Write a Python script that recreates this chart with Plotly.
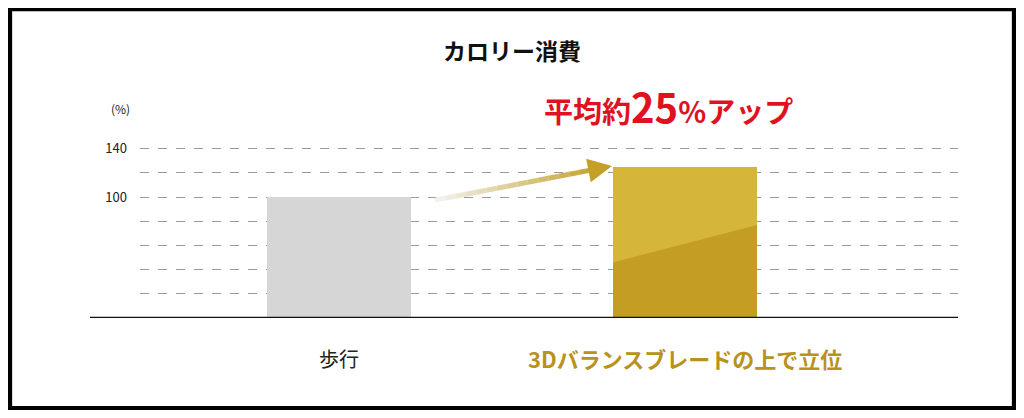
import plotly.graph_objects as go

categories = ["歩行", "3Dバランスブレードの上で立位"]
values = [100, 125]
grid_vals = [20, 40, 60, 80, 100, 120, 140, 160]
tick_labels = {100: "100", 140: "140"}

FONT = "Noto Sans CJK JP"
OFF = 8  # page body margin
W, H = 1024 - 2 * OFF, 418 - 2 * OFF
ML, MR, MT, MB = 140 - OFF, 66 - OFF, 124 - OFF, 100 - OFF
pw = W - ML - MR
ph = H - MT - MB
X0, X1 = -0.575, 1.789
YMAX = 160.5


def px_to_x(px):
    return X0 + (px - OFF - ML) / pw * (X1 - X0)


def pxx(px):
    return (px - OFF - ML) / pw


def pxy(py):
    return 1 - (py - OFF - MT) / ph


fig = go.Figure()
bw = 0.416
fig.add_trace(go.Bar(x=[0], y=[values[0]], width=bw, marker=dict(color="#d6d6d6", line_width=0),
                     hoverinfo="skip"))
fig.add_trace(go.Bar(x=[1], y=[values[1]], width=bw, marker=dict(color="#c39e22", line_width=0),
                     hoverinfo="skip"))
# lighter upper part of the gold bar
l, r = 1 - bw / 2, 1 + bw / 2
fig.add_trace(go.Scatter(x=[l, r, r, l, l], y=[values[1], values[1], 77, 46, values[1]],
                         fill="toself", fillcolor="rgba(216,186,60,0.85)", mode="none",
                         hoverinfo="skip"))

# arrow with gray-to-gold gradient
ax0, ax1 = px_to_x(435), px_to_x(600)
ay0, ay1 = 97.5, 123.8
n = 16
c0, c1 = (244, 244, 244), (196, 160, 40)
for i in range(n):
    t0, t1 = i / n, (i + 1) / n
    tc = (i + 0.5) / n
    col = "rgb(%d,%d,%d)" % tuple(int(c0[k] + (c1[k] - c0[k]) * tc) for k in range(3))
    fig.add_trace(go.Scatter(x=[ax0 + (ax1 - ax0) * t0, ax0 + (ax1 - ax0) * t1],
                             y=[ay0 + (ay1 - ay0) * t0, ay0 + (ay1 - ay0) * t1],
                             mode="lines", line=dict(color=col, width=5), hoverinfo="skip"))
fig.add_annotation(x=px_to_x(612), y=125.8, ax=px_to_x(596), ay=123.2, xref="x", yref="y",
                   axref="x", ayref="y", text="", showarrow=True, arrowhead=2, arrowsize=1.2,
                   arrowwidth=4, arrowcolor="#c4a028")

# baseline
fig.add_shape(type="line", xref="paper", yref="y", x0=pxx(90), x1=1, y0=0, y1=0,
              line=dict(color="#111", width=2.5))
# frame
fig.add_shape(type="rect", xref="paper", yref="paper",
              x0=-ML / pw + 0.002, x1=1 + MR / pw - 0.002,
              y0=-MB / ph + 0.008, y1=1 + MT / ph - 0.004,
              line=dict(color="black", width=5), layer="below")

fig.add_annotation(text="<b>カロリー消費</b>", xref="paper", yref="paper",
                   x=pxx(512), y=pxy(50), xanchor="center", yanchor="middle", showarrow=False,
                   font=dict(size=23, color="#111", family=FONT))
fig.add_annotation(text="<b>平均約<span style='font-size:40px'>25</span>%アップ</b>",
                   xref="paper", yref="paper", x=pxx(668), y=pxy(106),
                   xanchor="center", yanchor="middle", showarrow=False,
                   font=dict(size=29, color="#e0121f", family=FONT))
fig.add_annotation(text="(%)", xref="paper", yref="paper", x=pxx(120), y=pxy(108),
                   xanchor="center", yanchor="middle", showarrow=False,
                   font=dict(size=12, color="#222", family=FONT))
fig.add_annotation(text=categories[0], x=0, y=0, yref="y", yshift=-40, showarrow=False,
                   font=dict(size=20, color="#222", family=FONT))
fig.add_annotation(text="<b>" + categories[1] + "</b>", x=1, y=0, yref="y", yshift=-40,
                   showarrow=False, font=dict(size=22, color="#b8921c", family=FONT))

fig.update_layout(
    width=W, height=H, margin=dict(l=ML, r=MR, t=MT, b=MB),
    paper_bgcolor="white", plot_bgcolor="white", showlegend=False, bargap=0,
    xaxis=dict(range=[X0, X1], showticklabels=False, showgrid=False, zeroline=False,
               fixedrange=True),
    yaxis=dict(range=[0, YMAX], tickvals=grid_vals,
               ticktext=[tick_labels.get(v, "") for v in grid_vals],
               showgrid=True, gridcolor="#9a9a9a", griddash="dash", gridwidth=1,
               zeroline=False, ticks="", ticklabelstandoff=12,
               tickfont=dict(size=13, color="#222", family=FONT)),
)
fig.write_html("out.html")
